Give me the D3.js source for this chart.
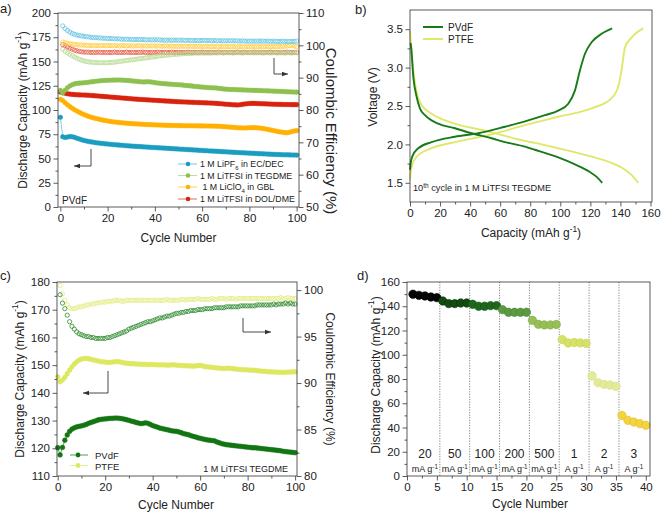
<!DOCTYPE html>
<html><head><meta charset="utf-8">
<script src="https://cdn.jsdelivr.net/npm/d3@7"></script>
<style>
body{margin:0;background:#fff;}
svg text{font-family:"Liberation Sans",Arial,sans-serif;fill:#222;}
</style></head><body>
<script>
// ---------------- DATA ----------------
// Panel a: cycles 0..100 for capacity, 1..100 for coulombic efficiency
const aCapLiPF6 = [92.5,72.5,71.6,72.1,72.6,72.4,71.8,70.9,70.1,69.3,68.6,
68.0,67.5,67.1,66.7,66.3,66.0,65.7,65.4,65.1,64.9,
64.7,64.4,64.2,64.0,63.8,63.6,63.4,63.2,63.0,62.8,
62.7,62.5,62.4,62.2,62.0,61.9,61.7,61.6,61.4,61.3,
61.1,61.0,60.8,60.7,60.5,60.4,60.2,60.1,59.9,59.8,
59.6,59.5,59.3,59.2,59.0,58.9,58.7,58.6,58.4,58.3,
58.1,58.0,57.8,57.7,57.6,57.4,57.3,57.1,57.0,56.9,
56.7,56.6,56.5,56.3,56.2,56.0,55.9,55.8,55.6,55.5,
55.4,55.3,55.1,55.0,54.9,54.8,54.7,54.5,54.4,54.3,
54.2,54.1,54.0,53.9,53.8,53.8,53.7,53.6,53.6,53.5];
const aCapLiClO4 = [111.0,109.8,107.5,105.4,103.5,101.8,100.3,98.9,97.6,96.4,95.3,
94.3,93.4,92.6,91.9,91.3,90.7,90.1,89.6,89.1,88.7,
88.3,87.9,87.6,87.3,87.0,86.8,86.6,86.4,86.2,86.0,
85.8,85.7,85.5,85.4,85.3,85.1,85.0,84.9,84.8,84.7,
84.6,84.5,84.4,84.3,84.2,84.1,84.1,84.0,84.0,83.9,
83.9,83.8,83.8,83.8,83.7,83.7,83.7,83.6,83.6,83.6,
83.5,83.5,83.5,83.4,83.4,83.3,83.2,83.1,82.9,82.7,
82.5,82.3,82.1,81.9,81.7,81.6,81.5,81.5,81.6,81.7,
81.8,81.8,81.7,81.5,81.2,80.8,80.4,79.9,79.4,78.9,
78.4,77.9,77.4,77.0,76.7,76.6,77.0,77.8,78.4,78.7];
const aCapDOL = [118.5,117.8,117.2,116.8,116.4,116.1,115.9,115.7,115.6,115.5,115.4,
115.3,115.2,115.0,114.8,114.6,114.4,114.2,114.0,113.8,113.6,
113.4,113.2,113.0,112.8,112.6,112.4,112.2,112.0,111.8,111.6,
111.4,111.2,111.0,110.9,110.7,110.6,110.4,110.3,110.1,110.0,
109.8,109.7,109.5,109.4,109.2,109.1,108.9,108.8,108.6,108.5,
108.4,108.3,108.2,108.1,108.0,107.9,107.8,107.7,107.6,107.5,
107.4,107.3,107.2,107.1,107.0,106.8,106.6,106.4,106.2,106.0,
105.8,105.6,105.4,105.3,105.2,105.4,105.8,106.2,106.5,106.7,
106.8,106.8,106.7,106.6,106.5,106.4,106.3,106.2,106.1,106.0,
105.9,105.8,105.8,105.7,105.7,105.6,105.6,105.5,105.5,105.5];
const aCELiPF6 = [106.0,105.2,104.6,104.1,103.7,103.4,103.2,103.0,102.9,102.8,
102.7,102.6,102.5,102.4,102.4,102.3,102.3,102.2,102.2,102.1,
102.1,102.1,102.0,102.0,102.0,101.9,101.9,101.9,101.9,101.8,
101.8,101.8,101.8,101.8,101.8,101.7,101.7,101.7,101.7,101.7,
101.7,101.7,101.6,101.6,101.6,101.6,101.6,101.6,101.6,101.6,
101.6,101.6,101.5,101.6,101.5,101.5,101.5,101.5,101.5,101.5,
101.5,101.5,101.5,101.4,101.5,101.4,101.4,101.4,101.4,101.4,
101.4,101.4,101.4,101.4,101.4,101.3,101.4,101.3,101.3,101.3,
101.3,101.3,101.3,101.3,101.3,101.3,101.3,101.3,101.2,101.3,
101.2,101.2,101.2,101.3,101.2,101.2,101.2,101.2,101.2,101.3];
const aCETEGDME = [98.8,98.2,97.7,97.2,96.8,96.4,96.0,95.7,95.4,95.2,
95.0,94.9,94.8,94.7,94.7,94.6,94.6,94.6,94.6,94.6,
94.7,94.7,94.8,94.9,95.0,95.1,95.2,95.3,95.4,95.5,
95.6,95.7,95.8,95.9,96.0,96.1,96.2,96.3,96.4,96.5,
96.6,96.7,96.8,96.9,97.0,97.0,97.1,97.2,97.2,97.3,
97.3,97.4,97.4,97.5,97.5,97.5,97.6,97.6,97.6,97.6,
97.6,97.6,97.6,97.6,97.7,97.6,97.7,97.7,97.6,97.7,
97.7,97.7,97.6,97.7,97.7,97.7,97.6,97.7,97.7,97.7,
97.7,97.6,97.7,97.7,97.7,97.6,97.7,97.7,97.6,97.7,
97.7,97.6,97.7,97.7,97.6,97.7,97.7,97.6,97.7,97.7];
const aCELiClO4 = [101.0,100.8,100.6,100.5,100.4,100.3,100.2,100.1,100.1,100.0,
100.0,100.0,99.9,99.9,99.9,99.9,99.9,99.9,99.9,99.9,
99.9,99.9,99.9,99.9,99.8,99.9,99.9,99.8,99.9,99.8,
99.8,99.8,99.9,99.8,99.8,99.8,99.8,99.8,99.8,99.8,
99.8,99.8,99.7,99.8,99.8,99.7,99.8,99.7,99.7,99.7,
99.7,99.7,99.7,99.7,99.7,99.7,99.6,99.7,99.7,99.6,
99.6,99.7,99.6,99.6,99.6,99.6,99.6,99.6,99.6,99.6,
99.6,99.6,99.6,99.6,99.5,99.6,99.6,99.5,99.6,99.6,
99.6,99.6,99.6,99.6,99.6,99.6,99.6,99.6,99.6,99.6,
99.6,99.6,99.6,99.7,99.7,99.8,99.9,100.0,99.8,99.6];
const aCEDOL = [100.2,99.9,99.5,99.1,98.8,98.5,98.3,98.1,98.0,97.9,
97.9,97.9,97.8,97.8,97.8,97.9,97.8,97.8,97.8,97.8,
97.8,97.8,97.9,97.8,97.8,97.8,97.8,97.9,97.8,97.8,
97.8,97.8,97.8,97.8,97.9,97.8,97.8,97.8,97.8,97.8,
97.9,97.8,97.8,97.8,97.8,97.8,97.9,97.8,97.8,97.8,
97.8,97.8,97.8,97.9,97.8,97.8,97.8,97.8,97.8,97.9,
97.8,97.8,97.8,97.8,97.8,97.8,97.9,97.8,97.8,97.8,
97.8,97.8,97.8,97.8,97.9,97.8,97.8,97.8,97.8,97.8,
97.8,97.9,97.8,97.8,97.8,97.8,97.8,97.8,97.9,97.8,
97.8,97.8,97.8,97.8,97.8,97.9,97.8,97.8,97.8,97.8];
const aLegend = ["1 M LiPF|6| in EC/DEC","1 M LiTFSI in TEGDME"," 1 M LiClO|4| in GBL","1 M LiTFSI in DOL/DME"];

// Panel b: 10th cycle voltage profiles
const bPvdfDisCap = [0.3,0.7,2.2,4.4,6.6,10,18.8,29.9,41,54.3,63.2,76.5,83,98.6,109.7,119.7,124,127.9];
const bPvdfDisV   = [3.32,3.28,2.88,2.62,2.47,2.38,2.27,2.21,2.145,2.08,2.03,1.97,1.93,1.83,1.74,1.64,1.58,1.50];
const bPtfeDisCap = [0,1,2.2,4.4,7.8,14.4,29.9,52,76.5,83,98.6,120.8,134,143,148,151.8];
const bPtfeDisV   = [3.48,3.2,2.96,2.68,2.51,2.40,2.27,2.17,2.045,2.02,1.95,1.84,1.76,1.67,1.59,1.50];
const bPvdfChCap  = [0,0.5,1.5,5.5,14.4,29.9,45.4,63.2,76.5,89.8,98.6,105.3,109.7,113,116.4,120.8,127.5,134.5];
const bPvdfChV    = [1.67,1.76,1.84,1.95,2.03,2.10,2.145,2.23,2.30,2.38,2.44,2.53,2.70,2.96,3.18,3.33,3.44,3.51];
const bPtfeChCap  = [0,0.4,1.1,4.4,14.4,29.9,52,76.5,98.6,120.8,134,138.5,140.7,143,147.4,155.1];
const bPtfeChV    = [1.54,1.62,1.71,1.84,1.95,2.03,2.12,2.25,2.36,2.47,2.60,2.75,2.96,3.26,3.39,3.51];

// Panel c: 1 M LiTFSI TEGDME, cycles 0..100 capacity, 1..100 CE
const cCapPvdf = [120.2,117.6,120.3,122.9,124.8,126.1,126.9,127.4,127.7,127.9,128.1,
128.3,128.6,129.0,129.3,129.6,129.9,130.2,130.4,130.5,130.6,
130.7,130.8,130.8,130.9,130.9,130.8,130.7,130.5,130.3,130.1,
129.8,129.6,129.3,129.1,128.9,129.0,129.2,129.0,128.6,128.2,
127.9,127.6,127.3,127.1,126.9,126.7,126.5,126.3,126.2,126.1,
125.9,125.6,125.3,125.1,124.9,124.6,124.3,124.1,123.8,123.6,
123.4,123.2,123.0,122.9,122.8,122.7,122.3,122.0,121.7,121.5,
121.3,121.2,121.1,121.0,120.9,120.8,120.7,120.6,120.5,120.4,
120.3,120.2,120.2,120.1,120.0,119.9,119.8,119.7,119.6,119.5,
119.4,119.3,119.2,119.1,118.9,118.8,118.7,118.6,118.5,118.4];
const cCapPtfe = [145.8,144.0,144.6,145.6,146.9,148.2,149.4,150.4,151.2,151.8,152.2,
152.4,152.4,152.3,152.1,151.9,151.7,151.5,151.3,151.2,151.1,
151.0,151.0,151.1,151.2,151.3,151.2,151.0,150.8,150.7,150.6,
150.5,150.5,150.4,150.4,150.3,150.3,150.3,150.2,150.2,150.2,
150.2,150.1,150.1,150.1,150.1,150.0,150.0,150.1,150.1,150.0,
149.9,149.9,149.8,149.8,149.7,149.7,149.6,149.7,149.8,149.9,
149.7,149.5,149.4,149.3,149.2,149.1,149.0,148.9,148.8,148.8,
148.8,148.9,148.8,148.7,148.6,148.5,148.4,148.4,148.3,148.3,
148.2,148.2,148.1,148.0,147.9,147.8,147.8,147.7,147.6,147.6,
147.5,147.5,147.4,147.4,147.4,147.4,147.5,147.5,147.6,147.6];
const cCEPvdf = [99.5,98.6,98.0,97.3,96.6,96.1,95.8,95.5,95.3,95.2,
95.1,95.0,95.0,94.9,94.9,94.8,94.8,94.8,94.8,94.8,
94.9,94.9,95.0,95.1,95.2,95.3,95.4,95.5,95.6,95.8,
95.9,96.0,96.1,96.2,96.3,96.4,96.5,96.6,96.6,96.7,
96.8,96.9,97.0,97.0,97.1,97.2,97.2,97.3,97.4,97.5,
97.5,97.6,97.6,97.7,97.7,97.8,97.8,97.8,97.9,97.9,
97.9,98.0,98.0,98.0,98.0,98.1,98.1,98.1,98.1,98.1,
98.2,98.2,98.2,98.2,98.2,98.2,98.3,98.3,98.3,98.3,
98.3,98.3,98.3,98.4,98.4,98.4,98.4,98.4,98.4,98.4,
98.5,98.4,98.5,98.5,98.5,98.6,98.5,98.6,98.5,98.5];
const cCEPtfe = [100.5,99.6,98.9,98.4,98.1,98.0,98.0,98.1,98.2,98.2,
98.3,98.4,98.4,98.5,98.5,98.6,98.6,98.7,98.7,98.7,
98.8,98.8,98.8,98.9,98.9,98.9,98.8,98.8,98.9,98.9,
98.9,98.9,98.9,98.9,98.9,98.9,98.9,98.9,98.9,98.9,
98.9,98.9,98.9,98.9,98.9,99.0,98.9,98.9,98.9,98.9,
98.9,99.0,99.0,98.9,99.0,99.0,99.0,99.0,99.1,99.0,
99.0,99.0,99.0,99.0,99.1,99.0,99.0,99.1,99.1,99.1,
99.0,99.1,99.1,99.1,99.0,99.1,99.1,99.1,99.1,99.1,
99.1,99.1,99.1,99.1,99.1,99.1,99.1,99.1,99.1,99.1,
99.1,99.1,99.1,99.2,99.1,99.1,99.2,99.1,99.1,99.1];

// Panel d: rate capability, cycles 1..40
const dCap = [149.9,149.0,148.5,147.6,147.1, 144.3,142.2,142.2,142.7,142.7,
141.6,140.0,140.0,140.5,140.5, 137.2,135.0,135.0,135.0,135.0,
128.4,125.1,124.6,124.6,125.0, 112.5,109.7,110.1,109.8,109.4,
82.5,77.0,75.6,75.0,74.0, 50.0,45.9,44.5,43.2,41.8];
const dRates = ["20","50","100","200","500","1","2","3"];
const dRateUnits = ["mA g","mA g","mA g","mA g","mA g","A g","A g","A g"];
const dColors = ["#060606","#124a12","#1e681e","#5c9940","#98bf55","#d5e266","#e4eb98","#f3d33e"];
const dStroke = ["#000000","#0a360a","#155515","#4a8533","#82a944","#c3d053","#d3da80","#e0bc2a"];

// ---------------- DRAWING ----------------
const W = 661, H = 513;
const FONT = '"Liberation Sans",Arial,sans-serif';
const svg = d3.select("body").append("svg").attr("width", W).attr("height", H);

function drawAxis(orient, scale, pos, majors, minors, fmt, fs) {
  const gen = {bottom: d3.axisBottom, left: d3.axisLeft, right: d3.axisRight}[orient];
  const tr = orient === "bottom" ? `translate(0,${pos})` : `translate(${pos},0)`;
  if (minors) {
    const gm = svg.append("g").attr("transform", tr)
      .call(gen(scale).tickValues(minors).tickSize(2.5).tickFormat(""));
    gm.select(".domain").remove();
    gm.selectAll("line").attr("stroke", "#333").attr("stroke-width", 0.8);
  }
  const g = svg.append("g").attr("transform", tr)
    .call(gen(scale).tickValues(majors).tickSize(4.5).tickPadding(2.5).tickFormat(fmt || (d => d)));
  g.select(".domain").remove();
  g.attr("font-family", FONT).attr("font-size", fs || 11.5);
  g.selectAll("line").attr("stroke", "#333").attr("stroke-width", 0.8);
  g.selectAll("text").attr("fill", "#222");
}
function frame(x0, y0, x1, y1) {
  svg.append("rect").attr("x", x0).attr("y", y0).attr("width", x1 - x0).attr("height", y1 - y0)
    .attr("fill", "none").attr("stroke", "#333").attr("stroke-width", 0.8);
}
function label(txt, x, y, fs, anchor) {
  return svg.append("text").attr("x", x).attr("y", y).attr("font-size", fs)
    .attr("text-anchor", anchor || "start").text(txt);
}
function supTitle(x, y, rot, fs, pre, sup, post) {
  const t = svg.append("text").attr("transform", `translate(${x},${y}) rotate(${rot})`)
    .attr("text-anchor", "middle").attr("font-size", fs).attr("dominant-baseline", "central");
  t.append("tspan").text(pre);
  if (sup) t.append("tspan").attr("baseline-shift", "super").attr("font-size", fs * 0.7).text(sup);
  if (post) t.append("tspan").text(post);
  return t;
}
function series(xs, ys, xS, yS, o) {
  const pts = ys.map((v, i) => [xs[i], v]);
  if (o.line) {
    svg.append("path").datum(pts).attr("fill", "none").attr("stroke", o.line)
      .attr("stroke-width", o.lw || 0.8)
      .attr("d", d3.line().x(d => xS(d[0])).y(d => yS(d[1])));
  }
  svg.append("g").selectAll("circle").data(pts).join("circle")
    .attr("cx", d => xS(d[0])).attr("cy", d => yS(d[1])).attr("r", o.r)
    .attr("fill", o.fill).attr("stroke", o.stroke).attr("stroke-width", o.sw || 0.8);
}
function arrow(pts, dir) {
  svg.append("path").attr("d", d3.line()(pts)).attr("fill", "none").attr("stroke", "#333").attr("stroke-width", 0.9);
  const [tx, ty] = pts[pts.length - 1];
  const s = dir === "left" ? 1 : -1;
  svg.append("path").attr("d", `M${tx},${ty} L${tx + 6 * s},${ty - 2.3} L${tx + 6 * s},${ty + 2.3} Z`).attr("fill", "#333");
}

// ---------- Panel a ----------
{
  const L = 58, R = 299, T = 13, B = 207;
  const x = d3.scaleLinear().domain([-1, 101]).range([L, R]);
  const y = d3.scaleLinear().domain([0, 200]).range([B, T]);
  const y2 = d3.scaleLinear().domain([50, 110]).range([B, T]);
  const capCyc = d3.range(0, 101), ceCyc = d3.range(1, 101);
  const caps = [aCapLiPF6, cCapPvdf, aCapLiClO4, aCapDOL];
  const ces = [aCELiPF6, aCETEGDME, aCELiClO4, aCEDOL];
  const mCol = ["#1b9dc0", "#8dc04f", "#ffb000", "#d8230f"];
  const lCol = ["#62c4e2", "#b5d98e", "#ffcc40", "#e65a45"];
  [3, 2, 1, 0].forEach(i => series(ceCyc, ces[i], x, y2, {r: 2.1, fill: "none", stroke: lCol[i], sw: 0.8}));
  [3, 2, 1, 0].forEach(i => series(capCyc, caps[i], x, y, {r: 2.3, fill: mCol[i], stroke: mCol[i], line: lCol[i], sw: 0.5}));
  frame(L, T, R, B);
  drawAxis("bottom", x, B, d3.range(0, 101, 20), d3.range(10, 100, 20));
  drawAxis("left", y, L, d3.range(0, 201, 25), d3.range(12.5, 200, 25));
  drawAxis("right", y2, R, d3.range(50, 111, 10), d3.range(55, 110, 10));
  label("Cycle Number", (L + R) / 2, 242, 12, "middle");
  supTitle(22.5, 110, -90, 12, "Discharge Capacity (mAh g", "-1", ")");
  supTitle(332, 131, 90, 15, "Coulombic Efficiency (%)");
  label("a)", 0, 13, 13);
  label("PVdF", 62, 204, 10);
  // legend
  const ly = [164, 175.5, 187, 199];
  aLegend.forEach((s, i) => {
    svg.append("line").attr("x1", 178).attr("x2", 197).attr("y1", ly[i]).attr("y2", ly[i]).attr("stroke", lCol[i]).attr("stroke-width", 0.9);
    svg.append("circle").attr("cx", 188).attr("cy", ly[i]).attr("r", 2.3).attr("fill", mCol[i]);
    const parts = s.split("|");
    const t = svg.append("text").attr("x", 200).attr("y", ly[i] + 3.2).attr("font-size", 8.8).attr("xml:space", "preserve");
    t.append("tspan").text(parts[0]);
    if (parts.length > 1) {
      t.append("tspan").attr("baseline-shift", "sub").attr("font-size", 6).text(parts[1]);
      t.append("tspan").text(parts[2]);
    }
  });
  arrow([[91, 149], [91, 166], [74, 166]], "left");
  arrow([[274, 58], [274, 74], [288, 74]], "right");
}

// ---------- Panel b ----------
{
  const L = 410, R = 652, T = 10, B = 202;
  const x = d3.scaleLinear().domain([0, 161]).range([L, R]);
  const y = d3.scaleLinear().domain([1.25, 3.75]).range([B, T]);
  const line = d3.line().x(d => x(d[0])).y(d => y(d[1])).curve(d3.curveMonotoneX);
  const curves = [
    [bPtfeDisCap, bPtfeDisV, "#dfe86a"], [bPtfeChCap, bPtfeChV, "#dfe86a"],
    [bPvdfDisCap, bPvdfDisV, "#197a19"], [bPvdfChCap, bPvdfChV, "#197a19"]];
  curves.forEach(([cx, cy, c]) => {
    svg.append("path").datum(cx.map((v, i) => [v, cy[i]])).attr("fill", "none")
      .attr("stroke", c).attr("stroke-width", 1.9).attr("d", line);
  });
  frame(L, T, R, B);
  drawAxis("bottom", x, B, d3.range(0, 161, 20), d3.range(10, 161, 20));
  drawAxis("left", y, L, [1.5, 2.0, 2.5, 3.0, 3.5], [1.75, 2.25, 2.75, 3.25], d3.format(".1f"));
  const tt = svg.append("text").attr("x", 531).attr("y", 237).attr("font-size", 12).attr("text-anchor", "middle");
  tt.append("tspan").text("Capacity (mAh g");
  tt.append("tspan").attr("baseline-shift", "super").attr("font-size", 8.4).text("-1");
  tt.append("tspan").text(")");
  supTitle(373, 97, -90, 12, "Voltage (V)");
  label("b)", 355, 14, 13);
  [["PVdF", "#197a19", 27], ["PTFE", "#dfe86a", 39]].forEach(([n, c, yy]) => {
    svg.append("line").attr("x1", 423).attr("x2", 443).attr("y1", yy).attr("y2", yy).attr("stroke", c).attr("stroke-width", 2);
    label(n, 448, yy + 4, 10);
  });
  const nt = svg.append("text").attr("x", 413).attr("y", 191).attr("font-size", 9.2);
  nt.append("tspan").text("10");
  nt.append("tspan").attr("baseline-shift", "super").attr("font-size", 6.5).text("th");
  nt.append("tspan").text(" cycle in 1 M LiTFSI TEGDME");
}

// ---------- Panel c ----------
{
  const L = 57, R = 297, T = 282, B = 476;
  const x = d3.scaleLinear().domain([-0.3, 100.8]).range([L, R]);
  const y = d3.scaleLinear().domain([110, 180]).range([B, T]);
  const y2 = d3.scaleLinear().domain([80, 100.87]).range([B, T]);
  const capCyc = d3.range(0, 101), ceCyc = d3.range(1, 101);
  series(ceCyc, cCEPtfe, x, y2, {r: 2.1, fill: "none", stroke: "#e2eb7c", sw: 0.8});
  series(ceCyc, cCEPvdf, x, y2, {r: 2.1, fill: "none", stroke: "#2f8a2f", sw: 0.8});
  series(capCyc, cCapPtfe, x, y, {r: 2.4, fill: "#dce861", stroke: "#dce861", line: "#e4ec86", sw: 0.5});
  series(capCyc, cCapPvdf, x, y, {r: 2.4, fill: "#137513", stroke: "#137513", line: "#3d913d", sw: 0.5});
  frame(L, T, R, B);
  drawAxis("bottom", x, B, d3.range(0, 101, 20), d3.range(10, 100, 20));
  drawAxis("left", y, L, d3.range(110, 181, 10), d3.range(115, 180, 10));
  drawAxis("right", y2, R, d3.range(80, 101, 5), d3.range(82.5, 100, 5));
  label("Cycle Number", 176, 509, 12, "middle");
  supTitle(19.5, 379, -90, 12, "Discharge Capacity (mAh g", "-1", ")");
  supTitle(330, 379, 90, 12, "Coulombic Efficiency (%)");
  label("c)", 0, 280, 13);
  [["PVdF", "#137513", "#3d913d", 455], ["PTFE", "#dce861", "#e4ec86", 465.5]].forEach(([n, c, lc, yy]) => {
    svg.append("line").attr("x1", 70).attr("x2", 88).attr("y1", yy).attr("y2", yy).attr("stroke", lc).attr("stroke-width", 0.9);
    svg.append("circle").attr("cx", 78).attr("cy", yy).attr("r", 2.4).attr("fill", c);
    label(n, 95, yy + 4, 9.5);
  });
  label("1 M LiTFSI TEGDME", 288, 472, 9, "end");
  arrow([[108, 371], [108, 393], [83, 393]], "left");
  arrow([[243, 318], [243, 332], [271, 332]], "right");
}

// ---------- Panel d ----------
{
  const L = 407, R = 650, T = 282, B = 476;
  const x = d3.scaleLinear().domain([0, 40.7]).range([L, R]);
  const y = d3.scaleLinear().domain([0, 160]).range([B, T]);
  const cyc = d3.range(1, 41);
  // dotted separators
  d3.range(5.5, 36, 5).forEach(v => {
    svg.append("line").attr("x1", x(v)).attr("x2", x(v)).attr("y1", T).attr("y2", B)
      .attr("stroke", "#666").attr("stroke-width", 0.8).attr("stroke-dasharray", "1.2,1.4");
  });
  svg.append("g").selectAll("circle").data(cyc).join("circle")
    .attr("cx", c => x(c)).attr("cy", (c, i) => y(dCap[i])).attr("r", 4.2)
    .attr("fill", (c, i) => dColors[Math.floor(i / 5)])
    .attr("stroke", (c, i) => dStroke[Math.floor(i / 5)]).attr("stroke-width", 0.6);
  frame(L, T, R, B);
  drawAxis("bottom", x, B, d3.range(0, 41, 5), d3.range(2.5, 40, 5));
  drawAxis("left", y, L, d3.range(0, 161, 20), d3.range(10, 160, 20));
  label("Cycle Number", 530, 508, 12, "middle");
  supTitle(376, 375, -90, 12, "Discharge Capacity (mAh g", "-1", ")");
  label("d)", 357, 280, 13);
  dRates.forEach((r, i) => {
    const cx = x(3 + 5 * i);
    label(r, cx, 458, 12, "middle");
    const t = svg.append("text").attr("x", cx).attr("y", 472).attr("font-size", 9).attr("text-anchor", "middle");
    t.append("tspan").text(dRateUnits[i]);
    t.append("tspan").attr("baseline-shift", "super").attr("font-size", 6.3).text("-1");
  });
}
</script>
</body></html>
